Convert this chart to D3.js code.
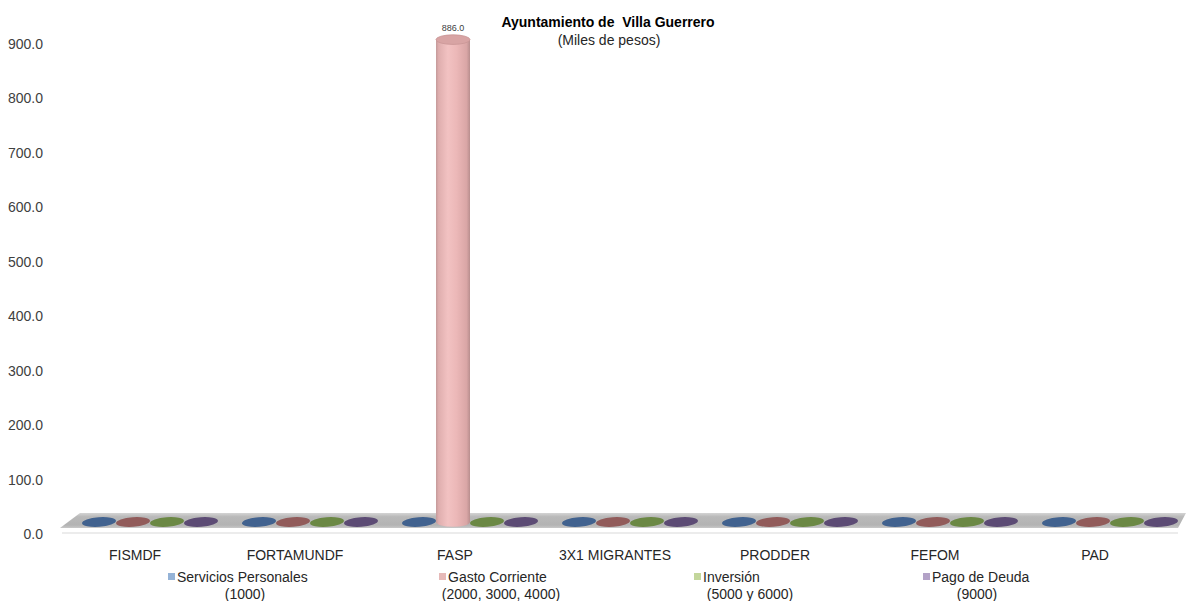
<!DOCTYPE html>
<html>
<head>
<meta charset="utf-8">
<script src="https://cdn.jsdelivr.net/npm/d3@7"></script>
<style>
  html, body { margin: 0; padding: 0; background: #ffffff; }
  svg { display: block; font-family: "Liberation Sans", Arial, sans-serif; }
</style>
</head>
<body>
<svg id="chart" width="1186" height="601"></svg>
<script>
// ---- data ----
const categories = ["FISMDF", "FORTAMUNDF", "FASP", "3X1 MIGRANTES", "PRODDER", "FEFOM", "PAD"];
const seriesNames = [
  ["Servicios Personales", "(1000)"],
  ["Gasto Corriente", "(2000, 3000, 4000)"],
  ["Inversión", "(5000 y 6000)"],
  ["Pago de Deuda", "(9000)"]
];
const serviciosPersonales = [0, 0, 0, 0, 0, 0, 0];
const gastoCorriente      = [0, 0, 886.0, 0, 0, 0, 0];
const inversion           = [0, 0, 0, 0, 0, 0, 0];
const pagoDeuda           = [0, 0, 0, 0, 0, 0, 0];
const tickValues = [0, 100, 200, 300, 400, 500, 600, 700, 800, 900];
const titleText = "Ayuntamiento de  Villa Guerrero";
const subtitleText = "(Miles de pesos)";

// ---- styles / layout ----
const seriesValues = [serviciosPersonales, gastoCorriente, inversion, pagoDeuda];
const capColors = ["#41628f", "#915b5a", "#6b8844", "#5c4b74"];
const legendColors = ["#95b3d7", "#e6b9b8", "#c3d69b", "#b3a2c7"];
const legendLayout = [{x1: 177, c2: 245}, {x1: 448, c2: 501}, {x1: 703, c2: 750}, {x1: 932, c2: 977}];

const svg = d3.select("#chart");
const defs = svg.append("defs");

const grad = defs.append("linearGradient").attr("id", "pinkBody").attr("x1", "0").attr("x2", "1").attr("y1", "0").attr("y2", "0");
[[0, "#c49a9a"], [0.08, "#dfaeae"], [0.35, "#f2c2c2"], [0.6, "#ecb8b8"], [0.9, "#d9a6a6"], [1, "#b88e8e"]]
  .forEach(([o, c]) => grad.append("stop").attr("offset", o).attr("stop-color", c));

const floorGrad = defs.append("linearGradient").attr("id", "floorG").attr("x1", "0").attr("x2", "0").attr("y1", "0").attr("y2", "1");
[[0, "#d4d4d4"], [0.25, "#b9b9b9"], [0.8, "#b3b3b3"], [1, "#c8c8c8"]]
  .forEach(([o, c]) => floorGrad.append("stop").attr("offset", o).attr("stop-color", c));

// scales
const y = d3.scaleLinear().domain([0, 900]).range([534, 44]);
const x0 = d3.scaleBand().domain(categories).range([70, 1190]).paddingInner(0.15).paddingOuter(0.075);
const x1 = d3.scaleBand().domain(d3.range(seriesValues.length)).range([0, x0.bandwidth()]);
const depth = 12; // 3D shift between axis plane and bar centre plane

// y axis
const yAxis = d3.axisLeft(y).tickValues(tickValues).tickFormat(d3.format(".1f")).tickSize(0).tickPadding(0);
const gy = svg.append("g").attr("transform", "translate(43,0)").call(yAxis);
gy.select(".domain").remove();
gy.selectAll("text").attr("font-size", "14px").attr("fill", "#404040").attr("font-family", "Liberation Sans, Arial, sans-serif");

// floor
const fy0 = y(0) - depth - 9, fy1 = y(0) - depth + 6;
svg.append("path")
  .attr("d", `M62,${fy1 + 4} L1178,${fy1 + 4} L1178,${fy1 + 6} L62,${fy1 + 6} Z`)
  .attr("fill", "#ececec");
svg.append("path")
  .attr("d", `M80,${fy0} L1186,${fy0} L1178,${fy1} L60,${fy1} Z`)
  .attr("fill", "url(#floorG)");

// bars (cylinders)
const ry = 4.8;
const groups = svg.append("g").selectAll("g").data(categories).join("g")
  .attr("transform", d => `translate(${x0(d)},0)`);

groups.each(function(cat, ci) {
  const g = d3.select(this);
  seriesValues.forEach((vals, si) => {
    const v = vals[ci];
    const bx = x1(si), bw = x1.bandwidth();
    const cx = bx + bw / 2;
    const base = y(0) - depth;
    const top = y(v) - depth;
    if (v > 0) {
      g.append("path")
        .attr("d", `M${bx},${top} L${bx},${base} A${bw / 2},${ry} 0 0 0 ${bx + bw},${base} L${bx + bw},${top} Z`)
        .attr("fill", "url(#pinkBody)");
      g.append("ellipse").attr("cx", cx).attr("cy", top).attr("rx", bw / 2).attr("ry", ry)
        .attr("fill", "#d8a4a4").attr("stroke", "#c99595").attr("stroke-width", 0.8);
      g.append("text").attr("x", cx).attr("y", top - 9)
        .attr("text-anchor", "middle").attr("font-size", "9px").attr("fill", "#404040")
        .text(d3.format(".1f")(v));
    } else {
      g.append("ellipse").attr("cx", cx).attr("cy", base).attr("rx", bw / 2).attr("ry", ry)
        .attr("transform", `rotate(-4,${cx},${base})`)
        .attr("fill", capColors[si]);
    }
  });
});

// category labels
svg.append("g").selectAll("text").data(categories).join("text")
  .attr("x", d => x0(d) + x0.bandwidth() / 2 - 15)
  .attr("y", 560)
  .attr("text-anchor", "middle")
  .attr("font-size", "14px")
  .attr("fill", "#262626")
  .text(d => d);

// title
svg.append("text").attr("x", 608).attr("y", 27).attr("text-anchor", "middle")
  .style("white-space", "pre")
  .attr("font-size", "14px").attr("font-weight", "bold").attr("fill", "#000").text(titleText);
svg.append("text").attr("x", 609).attr("y", 45).attr("text-anchor", "middle")
  .attr("font-size", "14px").attr("fill", "#262626").text(subtitleText);

// legend
const leg = svg.append("g").selectAll("g").data(seriesNames).join("g");
leg.append("rect")
  .attr("x", (d, i) => legendLayout[i].x1 - 9).attr("y", 573).attr("width", 7).attr("height", 7)
  .attr("fill", (d, i) => legendColors[i]);
leg.append("text")
  .attr("x", (d, i) => legendLayout[i].x1).attr("y", 582)
  .attr("font-size", "14px").attr("fill", "#262626")
  .text(d => d[0]);
leg.append("text")
  .attr("x", (d, i) => legendLayout[i].c2).attr("y", 599).attr("text-anchor", "middle")
  .attr("font-size", "14px").attr("fill", "#262626")
  .text(d => d[1]);
</script>
</body>
</html>
